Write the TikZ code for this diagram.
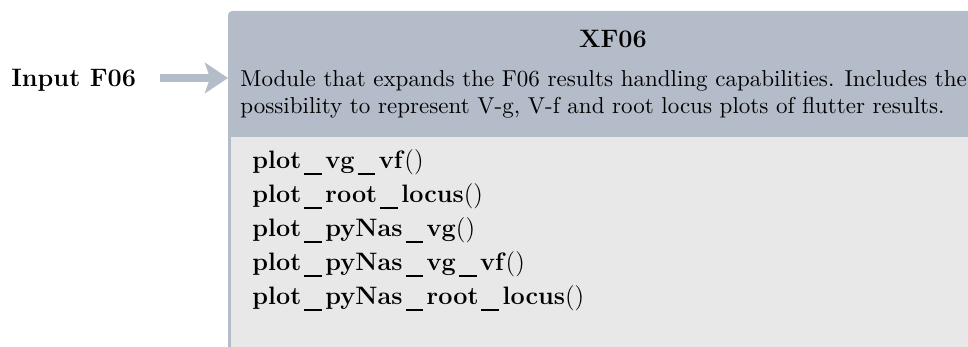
\documentclass[tikz,border=0pt]{standalone}
\usetikzlibrary{arrows.meta}
\definecolor{hdrblue}{RGB}{180,188,202}
\definecolor{bodygray}{RGB}{232,232,232}
\tikzset{
  feed/.style={hdrblue, line width=3.4pt, -{Stealth[length=11pt,width=14.5pt,inset=2.5pt]}},
  label/.style={inner sep=0pt, font=\fontsize{12}{14.5}\selectfont\bfseries},
  method/.style={anchor=base west, inner sep=0pt, font=\fontsize{12}{14.5}\selectfont},
}
\newcommand\us{\kern1.4pt\rule[-3pt]{8.5pt}{0.9pt}\kern1.6pt}
\newcommand\fn[1]{\textbf{#1}()}

\begin{document}
\begin{tikzpicture}[x=0.476pt,y=-0.476pt]
  \useasboundingbox (0,0) rectangle (968,347);
  \clip (0,0) rectangle (968,347);
  % module box (runs past the right and bottom edge)
  \fill[hdrblue, rounded corners=2pt] (228,11) coordinate (modnw) rectangle (998,380);
  \fill[bodygray] (231,137) rectangle (995,377);

  \node[label, anchor=base west] (input) at (11,87) {Input F06};
  \node[label, anchor=base] (title) at (613,48) {XF06};
  % base of a two-line node is its last line
  \node[anchor=base west, inner sep=0pt, align=left,
        font=\fontsize{10.95}{13.2}\selectfont] (desc) at (240,114)
    {Module that expands the F06 results handling capabilities. Includes the\\
     possibility to represent V-g, V-f and root locus plots of flutter results.};

  \coordinate (feedin) at (160,78);
  \draw[feed] (feedin) -- (feedin -| modnw);

  % functions
  \node[method] (m1) at (252,169) {\fn{plot\us vg\us vf}};
  \node[method] (m2) at (252,203) {\fn{plot\us root\us locus}};
  \node[method] (m3) at (252,237) {\fn{plot\us pyNas\us vg}};
  \node[method] (m4) at (252,271) {\fn{plot\us pyNas\us vg\us vf}};
  \node[method] (m5) at (252,305) {\fn{plot\us pyNas\us root\us locus}};
\end{tikzpicture}
\end{document}
